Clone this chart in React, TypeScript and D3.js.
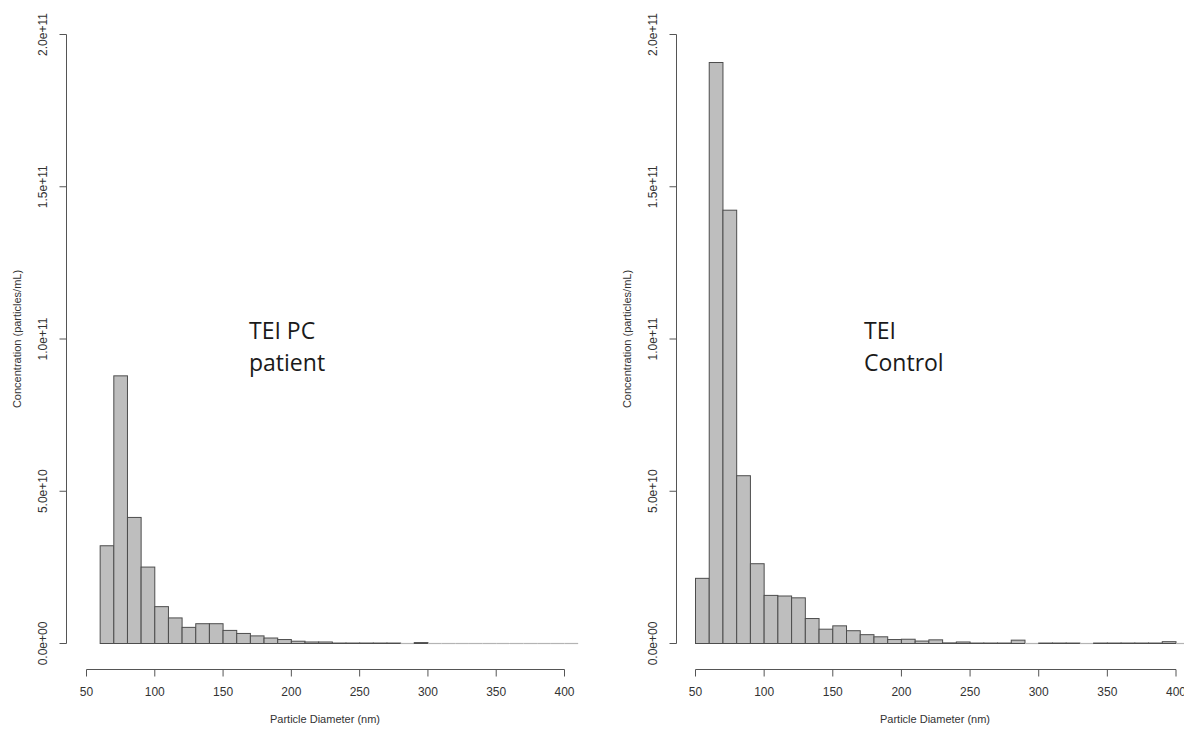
import React from "react";
import * as d3 from "d3";

// Bin lower edges (nm); every bin is 10 nm wide
const binWidth = 10;
const patientBins = d3.range(60, 410, 10);
const controlBins = d3.range(50, 410, 10);

// Concentration per bin (particles/mL)
const patientValues = [
  32.1e9, 87.9e9, 41.4e9, 25.1e9, 12.1e9, 8.4e9, 5.3e9, 6.5e9, 6.5e9, 4.3e9,
  3.3e9, 2.5e9, 1.8e9, 1.3e9, 0.75e9, 0.5e9, 0.5e9, 0.15e9, 0.15e9, 0.15e9,
  0.15e9, 0.15e9, 0, 0.3e9, 0, 0, 0, 0, 0, 0, 0, 0, 0, 0, 0,
];
const controlValues = [
  21.4e9, 190.8e9, 142.3e9, 55.1e9, 26.2e9, 15.8e9, 15.6e9, 15.0e9, 8.2e9, 4.7e9,
  5.8e9, 4.2e9, 2.9e9, 2.2e9, 1.3e9, 1.4e9, 0.8e9, 1.2e9, 0.2e9, 0.5e9,
  0.15e9, 0.15e9, 0.15e9, 1.1e9, 0, 0.15e9, 0.15e9, 0.15e9, 0, 0.15e9,
  0.15e9, 0.15e9, 0.15e9, 0.15e9, 0.6e9, 0,
];

const xTicks = [50, 100, 150, 200, 250, 300, 350, 400];
const yTicks = [0, 5e10, 1e11, 1.5e11, 2e11];
const yTickLabels = ["0.0e+00", "5.0e+10", "1.0e+11", "1.5e+11", "2.0e+11"];

const xTitle = "Particle Diameter (nm)";
const yTitle = "Concentration (particles/mL)";

const panels = [
  {
    key: "patient",
    bins: patientBins,
    values: patientValues,
    axisX: 66.5,
    xRange: [86.5, 564.5],
    titleX: 325,
    note: ["TEI PC", "patient"],
    noteX: 249,
  },
  {
    key: "control",
    bins: controlBins,
    values: controlValues,
    axisX: 676.5,
    xRange: [695.5, 1176],
    titleX: 935,
    note: ["TEI", "Control"],
    noteX: 864,
  },
];

const axisFont = "'Liberation Sans', Arial, sans-serif";
const noteFont = "'Open Sans', sans-serif";

const y = d3.scaleLinear().domain([0, 2e11]).range([643.5, 34.5]);
const xAxisY = 669.5;

function Panel({ p }: { p: (typeof panels)[number] }) {
  const x = d3.scaleLinear().domain([50, 400]).range(p.xRange);
  return (
    <g>
      {/* histogram bars; empty bins collapse to a faint baseline segment */}
      {p.bins.map((b, i) => {
        const v = p.values[i];
        const x0 = x(b);
        const x1 = x(b + binWidth);
        if (v <= 0) {
          return (
            <line key={b} x1={x0} x2={x1} y1={y(0)} y2={y(0)} stroke="#b4b4b4" strokeWidth={1.2} />
          );
        }
        return (
          <rect
            key={b}
            x={x0}
            y={y(v)}
            width={x1 - x0}
            height={y(0) - y(v)}
            fill="#bebebe"
            stroke="#4d4d4d"
            strokeWidth={1}
          />
        );
      })}

      {/* y axis */}
      <line x1={p.axisX} x2={p.axisX} y1={y(0)} y2={y(2e11)} stroke="#555" strokeWidth={1} />
      {yTicks.map((t, i) => (
        <g key={t}>
          <line x1={p.axisX - 7} x2={p.axisX} y1={y(t)} y2={y(t)} stroke="#555" strokeWidth={1} />
          <text
            transform={`translate(${p.axisX - 19.5},${y(t)}) rotate(-90)`}
            textAnchor="middle"
            fontFamily={axisFont}
            fontSize={12}
            fill="#333"
          >
            {yTickLabels[i]}
          </text>
        </g>
      ))}
      <text
        transform={`translate(${p.axisX - 46},${(y(0) + y(2e11)) / 2}) rotate(-90)`}
        textAnchor="middle"
        fontFamily={axisFont}
        fontSize={11}
        fill="#333"
      >
        {yTitle}
      </text>

      {/* x axis */}
      <line x1={x(50)} x2={x(400)} y1={xAxisY} y2={xAxisY} stroke="#555" strokeWidth={1} />
      {xTicks.map((t) => (
        <g key={t}>
          <line x1={x(t)} x2={x(t)} y1={xAxisY} y2={xAxisY + 7} stroke="#555" strokeWidth={1} />
          <text x={x(t)} y={695.5} textAnchor="middle" fontFamily={axisFont} fontSize={12} fill="#333">
            {t}
          </text>
        </g>
      ))}
      <text x={p.titleX} y={723} textAnchor="middle" fontFamily={axisFont} fontSize={11} fill="#333">
        {xTitle}
      </text>

      {/* annotation */}
      {p.note.map((line, i) => (
        <text key={line} x={p.noteX} y={338.5 + i * 32.5} fontFamily={noteFont} fontSize={23} fill="#1a1a1a">
          {line}
        </text>
      ))}
    </g>
  );
}

export default function App() {
  return (
    <div style={{ position: "fixed", left: 0, top: 0 }}>
      <svg width={1184} height={729} style={{ display: "block", background: "#fff" }}>
        {panels.map((p) => (
          <Panel key={p.key} p={p} />
        ))}
      </svg>
    </div>
  );
}
